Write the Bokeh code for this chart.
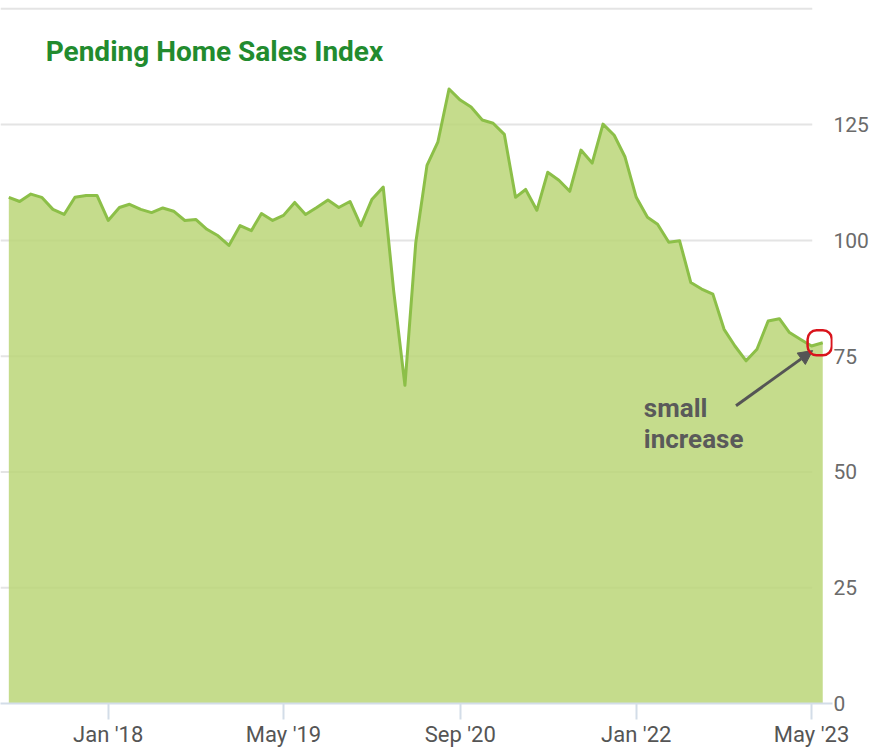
import pandas as pd
from bokeh.plotting import figure
from bokeh.models import (FixedTicker, DatetimeTickFormatter, Range1d, Label,
                          Arrow, NormalHead, ColumnDataSource)
from bokeh.embed import file_html
from bokeh.resources import INLINE

# ---------------- data ----------------
start_month = "2017-04-01"
end_month = "2023-06-01"
phsi = [
    109.3, 108.4, 110.0, 109.3, 106.7, 105.6, 109.3, 109.7, 109.7,              # 2017 Apr-Dec
    104.3, 107.1, 107.8, 106.7, 106.0, 107.0, 106.3, 104.3, 104.5, 102.4, 101.0, 98.9,   # 2018
    103.2, 102.1, 105.8, 104.3, 105.4, 108.2, 105.6, 107.1, 108.7, 107.1, 108.4, 103.2,  # 2019
    108.9, 111.5, 89.0, 68.7, 99.5, 116.2, 121.2, 132.7, 130.3, 128.8, 126.0, 125.3,     # 2020
    122.9, 109.3, 111.0, 106.5, 114.7, 113.0, 110.6, 119.5, 116.7, 125.1, 122.7, 118.0,  # 2021
    109.3, 105.0, 103.5, 99.6, 99.9, 90.9, 89.5, 88.4, 80.8, 77.2, 74.0, 76.5,           # 2022
    82.6, 83.1, 80.1, 78.6, 77.2, 77.9,                                                  # 2023 Jan-Jun
]
x_tick_months = ["2018-01-01", "2019-05-01", "2020-09-01", "2022-01-01", "2023-05-01"]
y_ticks = [0, 25, 50, 75, 100, 125]
grid_ticks = [25, 50, 75, 100, 125, 150]
title_text = "Pending Home Sales Index"
note_lines = ["small", "increase"]


def ms(s):
    return pd.Timestamp(s).value / 1e6


months = pd.date_range(start_month, end_month, freq="MS")
src = ColumnDataSource(dict(month=months, phsi=phsi, base=[0] * len(phsi)))

FONT = "Roboto"
FW, FH = 832, 703
x0 = ms("2017-03-09")
x1 = ms("2023-06-28")
y1 = 151.8

p = figure(x_axis_type="datetime", frame_width=FW, frame_height=FH,
           output_backend="svg", toolbar_location=None,
           x_range=Range1d(x0, x1), y_range=Range1d(0, y1),
           y_axis_location="right",
           min_border_left=0, min_border_top=0, min_border_right=0,
           min_border_bottom=0)
p.outline_line_color = None
p.background_fill_color = "white"

# horizontal grid lines, ending just past the last x tick
grid_end = ms(x_tick_months[-1]) + 2 * 24 * 3600 * 1000
p.segment(x0=[x0] * len(grid_ticks), y0=grid_ticks,
          x1=[grid_end] * len(grid_ticks), y1=grid_ticks,
          line_color="#e4e4e4", line_width=2)

# area + line
p.varea(x="month", y1="base", y2="phsi", source=src,
        fill_color="#bbd678", fill_alpha=0.85)
p.line(x="month", y="phsi", source=src, line_color="#8cbf48", line_width=3,
       line_join="round")

p.xgrid.grid_line_color = None
p.ygrid.grid_line_color = None

# y axis (right)
p.yaxis.ticker = FixedTicker(ticks=y_ticks)
p.yaxis.axis_line_color = None
p.yaxis.major_tick_line_color = None
p.yaxis.minor_tick_line_color = None
p.yaxis.major_tick_out = 0
p.yaxis.major_tick_in = 0
p.yaxis.major_label_standoff = 1
p.yaxis.major_label_text_font = FONT
p.yaxis.major_label_text_font_size = "21px"
p.yaxis.major_label_text_color = "#6b6b6b"

# x axis
p.xaxis.ticker = FixedTicker(ticks=[ms(t) for t in x_tick_months])
fmt = "%b '%y"
p.xaxis.formatter = DatetimeTickFormatter(
    milliseconds=fmt, seconds=fmt, minsec=fmt, minutes=fmt, hourmin=fmt,
    hours=fmt, days=fmt, months=fmt, years=fmt)
p.xaxis.axis_line_color = "#d3dde8"
p.xaxis.axis_line_width = 2
p.xaxis.major_tick_line_color = "#d3dde8"
p.xaxis.major_tick_line_width = 2
p.xaxis.major_tick_out = 16
p.xaxis.major_tick_in = 0
p.xaxis.minor_tick_line_color = None
p.xaxis.major_label_standoff = 2
p.xaxis.major_label_text_font = FONT
p.xaxis.major_label_text_font_size = "22px"
p.xaxis.major_label_text_color = "#555555"

# title inside the plot
p.add_layout(Label(x=ms("2017-07-12"), y=144.4, text=title_text,
                   text_baseline="top", text_align="left", text_font=FONT,
                   text_font_style="bold", text_font_size="28px",
                   text_color="#228b2e"))

# annotation
p.add_layout(Label(x=ms("2022-01-22"), y=67.1, text=note_lines[0],
                   text_baseline="top", text_font=FONT, text_font_style="bold",
                   text_font_size="26px", text_color="#5a5a5a"))
p.add_layout(Label(x=ms("2022-01-22"), y=60.4, text=note_lines[1],
                   text_baseline="top", text_font=FONT, text_font_style="bold",
                   text_font_size="26px", text_color="#5a5a5a"))
p.add_layout(Arrow(end=NormalHead(size=14, fill_color="#555555",
                                  line_color="#555555"),
                   x_start=ms("2022-10-04"), y_start=64.3,
                   x_end=ms("2023-05-04"), y_end=76.2,
                   line_color="#555555", line_width=3))

# red ring around the last point (about 20x30 px)
p.add_layout(Label(x=months[-1], y=phsi[-1], text=" ", x_offset=-3,
                   text_align="center", text_baseline="middle",
                   text_font_size="1px", padding=(15, 9, 15, 9),
                   border_line_color="#d9141c", border_line_width=2.5,
                   border_radius=9, background_fill_color=None))

open("out.html", "w").write(file_html(p, INLINE))
